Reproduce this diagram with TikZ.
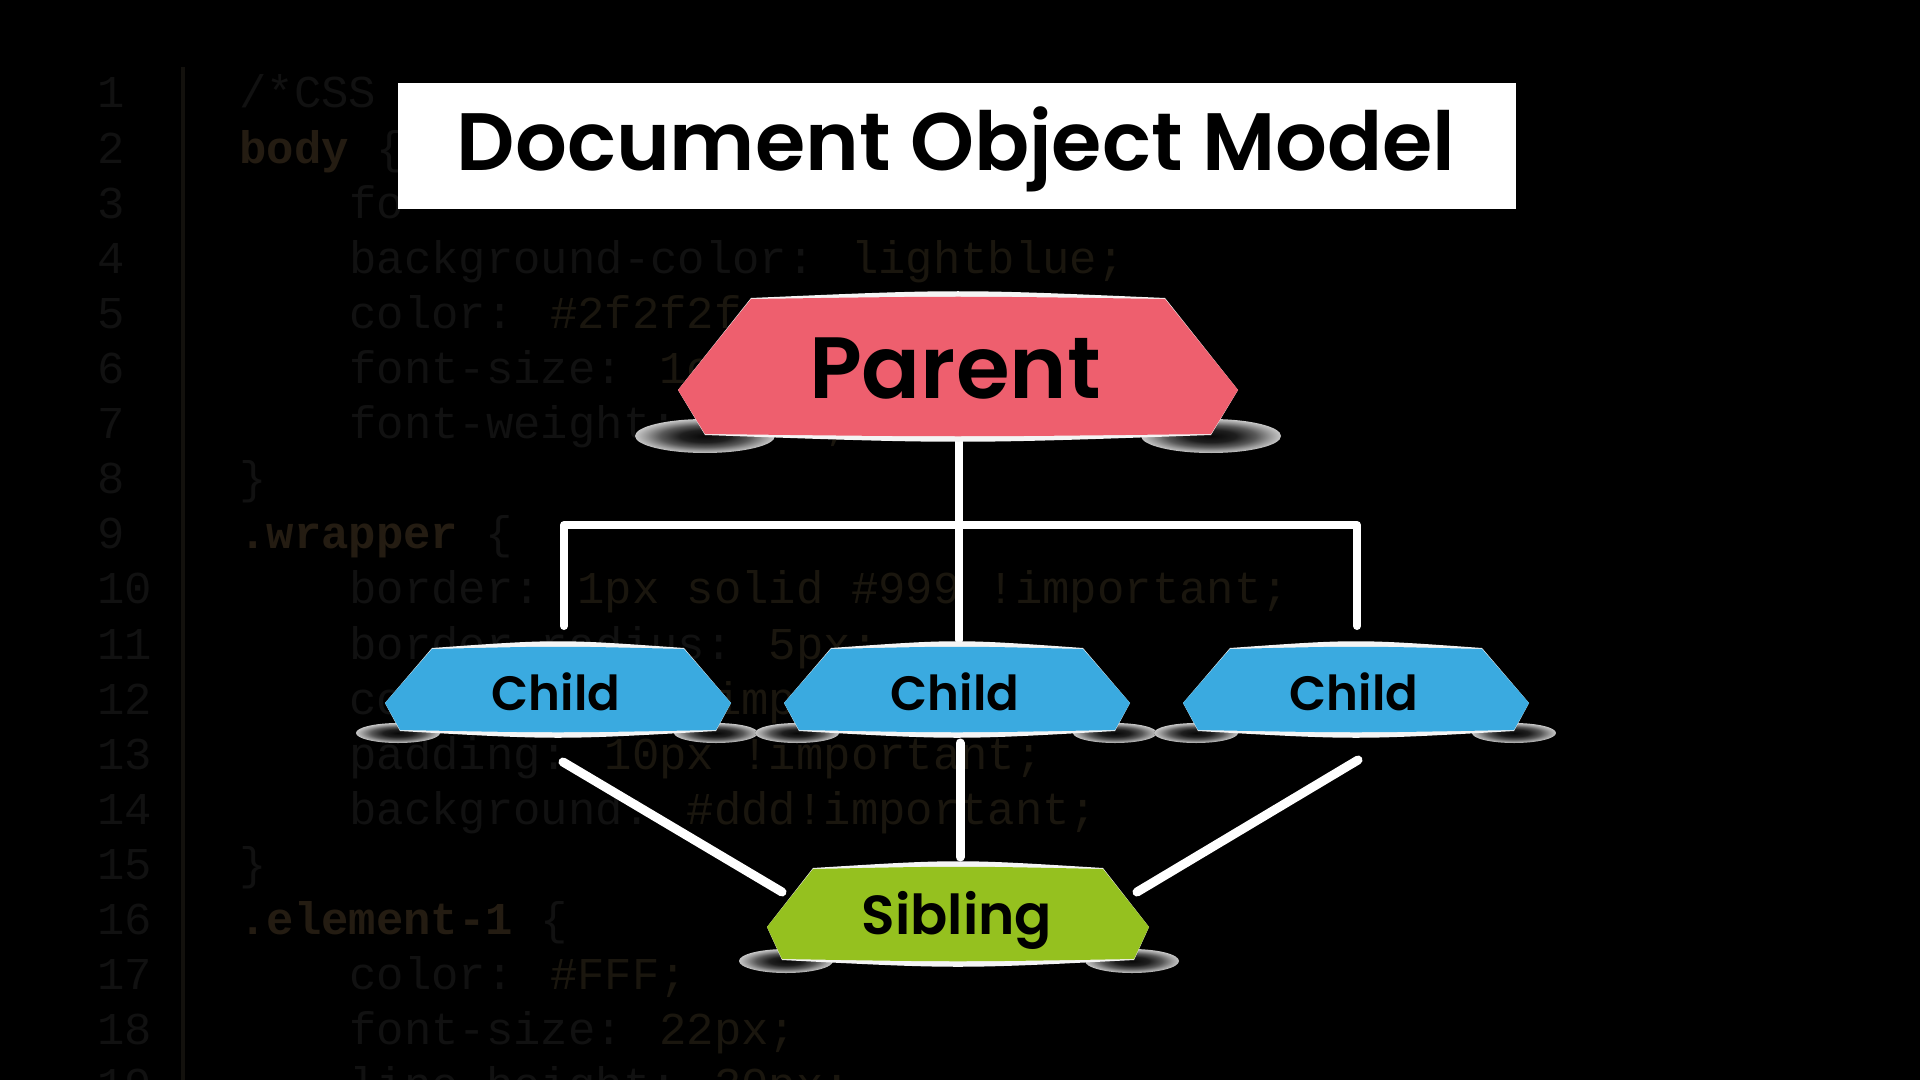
\documentclass[tikz,border=0pt]{standalone}
\usepackage{fontspec}
\newfontfamily\popsb{Poppins SemiBold}
\newfontfamily\codefont{Liberation Mono}
\usetikzlibrary{calc}
\definecolor{pinkc}{HTML}{EE5F6E}
\definecolor{bluec}{HTML}{3AAAE0}
\definecolor{greenc}{HTML}{95C11F}
\definecolor{codegray}{HTML}{111111}
\definecolor{codebrown}{HTML}{1A160E}
\definecolor{selbrown}{HTML}{241C12}
\definecolor{rulec}{HTML}{13110D}
\definecolor{rimc}{HTML}{F4F4F4}
\pgfdeclareradialshading{discshade}{\pgfpoint{0bp}{0bp}}{color(0bp)=(black!97); color(9bp)=(black!88); color(16bp)=(black!65); color(21bp)=(black!40); color(25bp)=(black!22); color(100bp)=(black!22)}
\newcommand\mybadge[8]{%
  \fill[fill=rimc] ({#1-#5},#2) .. controls (#1,{#2-9}) .. ({#1+#5},#2) -- ({#1+#6},#3) -- ({#1+#7},#4) .. controls (#1,{#4+9}) .. ({#1-#7},#4) -- ({#1-#6},#3) -- cycle;
  \fill[fill=#8] ({#1-#5},{#2+1}) .. controls (#1,{#2-2}) .. ({#1+#5},{#2+1}) -- ({#1+#6},#3) -- ({#1+#7},{#4-1}) .. controls (#1,{#4+2}) .. ({#1-#7},{#4-1}) -- ({#1-#6},#3) -- cycle;
}
\newcommand\myshadow[4]{%
  \fill[shading=discshade] (#1,#2) ellipse [x radius=#3, y radius=#4];
}
\begin{document}
\begin{tikzpicture}[x=0.5pt,y=-0.5pt,
  code/.style={anchor=base west, inner sep=0pt, font=\codefont\fontsize{22.8}{27}\selectfont, text=codegray},
  tree/.style={draw=white, line width=4pt, line cap=round, line join=round},
  link/.style={draw=white, line width=4.5pt, line cap=round},
  lbl/.style={anchor=base, inner sep=0pt, text=black}]
\useasboundingbox (0,0) rectangle (1920,1080);
\clip (0,0) rectangle (1920,1080);
\fill[black] (0,0) rectangle (1920,1080);
% editor background
\draw[rulec, line width=2pt] (183,67) -- (183,1085);
\foreach \i in {1,...,19} \node[code] (ln\i) at (97,{108+(\i-1)*55.1}) {\i};
\node[code] (code1) at (239,108) {/*CSS};
\node[code] (code2) at (239,163.1) {\textcolor{selbrown}{\textbf{body}} \{};
\node[code] (code3) at (349,218.2) {fo};
\node[code] (code4) at (349,273.3) {background-color: \textcolor{codebrown}{lightblue;}};
\node[code] (code5) at (349,328.4) {color: \textcolor{codebrown}{\#2f2f2f;}};
\node[code] (code6) at (349,383.5) {font-size: \textcolor{codebrown}{1em;}};
\node[code] (code7) at (349,438.6) {font-weight: \textcolor{codebrown}{bold;}};
\node[code] (code8) at (239,493.7) {\}};
\node[code] (code9) at (239,548.8) {\textcolor{selbrown}{\textbf{.wrapper}} \{};
\node[code] (code10) at (349,603.9) {border: \textcolor{codebrown}{1px solid \#999 !important;}};
\node[code] (code11) at (349,659.0) {border-radius: \textcolor{codebrown}{5px;}};
\node[code] (code12) at (349,714.1) {color: \textcolor{codebrown}{\#333 !important;}};
\node[code] (code13) at (349,769.2) {padding: \textcolor{codebrown}{10px !important;}};
\node[code] (code14) at (349,824.3) {background: \textcolor{codebrown}{\#ddd!important;}};
\node[code] (code15) at (239,879.4) {\}};
\node[code] (code16) at (239,934.5) {\textcolor{selbrown}{\textbf{.element-1}} \{};
\node[code] (code17) at (349,989.6) {color: \textcolor{codebrown}{\#FFF;}};
\node[code] (code18) at (349,1044.7) {font-size: \textcolor{codebrown}{22px;}};
\node[code] (code19) at (349,1099.8) {line-height: \textcolor{codebrown}{30px;}};
% title
\fill[white] (398,83) rectangle (1516,209);
\node[lbl, font=\popsb\fontsize{40.7}{48}\selectfont] (title) at (956,171) {Document Object Model};
% connector end points
\coordinate (pB) at (959,434);
\coordinate (bar) at (959,525);
\coordinate (c1T) at (564,626);
\coordinate (c2T) at (959,640);
\coordinate (c3T) at (1357,626);
\coordinate (c1B) at (563,762);
\coordinate (c2B) at (960,743);
\coordinate (c3B) at (1358,760);
\coordinate (sL) at (782,892);
\coordinate (sT) at (960,857);
\coordinate (sR) at (1137,892);
% connectors
\draw[tree] (pB) -- (c2T);
\draw[tree] (c1T) |- (bar) -| (c3T);
\draw[link] (c1B) -- (sL);
\draw[link] (c2B) -- (sT);
\draw[link] (c3B) -- (sR);
% shadows
\myshadow{705}{436}{70}{17}
\myshadow{1211}{436}{70}{17}
\foreach \cx in {558,957,1356}{
  \myshadow{\cx-160}{733}{42}{10}
  \myshadow{\cx+158}{733}{42}{10}
}
\myshadow{786}{961}{47}{12}
\myshadow{1132}{961}{47}{12}
% badges
\mybadge{958}{298}{390}{435}{207}{280}{253}{pinkc}
\foreach \cx in {558,957,1356}{
  \mybadge{\cx}{648}{703}{731}{126}{173}{158}{bluec}
}
\mybadge{958}{868}{927}{960}{145}{191}{176}{greenc}
% labels
\node[lbl, font=\popsb\fontsize{43.5}{50}\selectfont] (parent) at (955,398) {Parent};
\node[lbl, font=\popsb\fontsize{24.1}{29}\selectfont] (child1) at (556,710) {Child};
\node[lbl, font=\popsb\fontsize{24.1}{29}\selectfont] (child2) at (955,710) {Child};
\node[lbl, font=\popsb\fontsize{24.1}{29}\selectfont] (child3) at (1354,710) {Child};
\node[lbl, font=\popsb\fontsize{27.5}{32}\selectfont] (sibling) at (957,934) {Sibling};
\end{tikzpicture}
\end{document}
